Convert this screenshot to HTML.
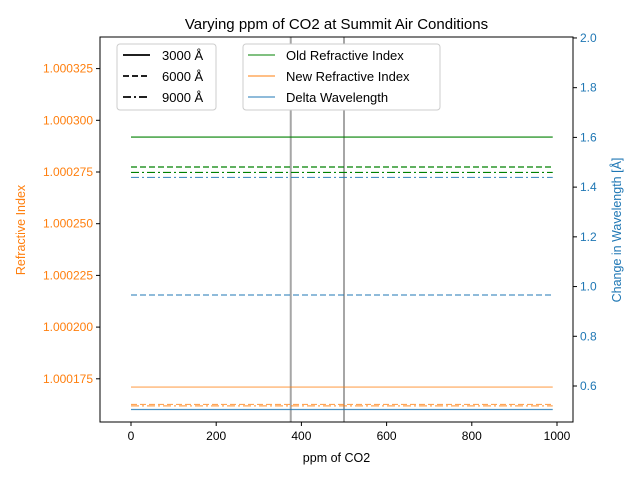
<!DOCTYPE html>
<html><head><meta charset="utf-8"><style>
body{margin:0;background:#fff}
svg{font-family:"Liberation Sans","DejaVu Sans",sans-serif}
</style></head><body>
<svg id="c" width="640" height="480" viewBox="0 0 640 480"></svg>
<script>
const wavelengths=["3000 Å","6000 Å","9000 Å"];
const dashes=["none","6,3","8,3,2,3"];
const ppmRange=[0,990];
const vlines=[375,500];
const oldIndex=[1.0002919,1.0002774,1.0002748];
const newIndex=[1.0001710,1.0001626,1.0001619];
const delta=[0.5055,0.966,1.439];
const leftTicks=[1.000175,1.000200,1.000225,1.000250,1.000275,1.000300,1.000325];
const rightTicks=[0.6,0.8,1.0,1.2,1.4,1.6,1.8,2.0];
const xTicks=[0,200,400,600,800,1000];

const NS="http://www.w3.org/2000/svg",svg=document.getElementById('c');
const L=100,R=573,T=37,B=422;
const x=v=>131+v*0.426;
const yl=v=>172-(v-1.000275)/0.000025*51.7;
const yr=v=>386-(v-0.6)/0.2*49.72;
function el(t,a,p){const e=document.createElementNS(NS,t);for(const k in a)e.setAttribute(k,a[k]);(p||svg).appendChild(e);return e;}
function tx(s,a){const e=el('text',a);e.textContent=s;return e;}

vlines.forEach(v=>{const e=el('line',{x1:x(v),x2:x(v),y1:T,y2:B,stroke:'#a6a6a6',"stroke-width":2});

});

function series(vals,scale,col,op,name){
 vals.forEach((v,i)=>{const e=el('line',{x1:x(ppmRange[0]),x2:x(ppmRange[1]),y1:scale(v),y2:scale(v),stroke:col,"stroke-width":1.2,"stroke-opacity":op,"stroke-dasharray":dashes[i]});
 
 });
}
series(oldIndex,yl,'#008000',1,'old-index-line');
series(newIndex,yl,'#ff7f0e',0.7,'new-index-line');
series(delta,yr,'#1f77b4',0.8,'delta-line');

const fr=el('rect',{x:L,y:T,width:R-L,height:B-T,fill:'none',stroke:'#000',"stroke-width":1});


xTicks.forEach(v=>{el('line',{x1:x(v),x2:x(v),y1:B,y2:B+4,stroke:'#000'});
 const t=tx(v,{x:x(v),y:B+18,"font-size":12,"text-anchor":"middle"});
 });
leftTicks.forEach(v=>{el('line',{x1:L-4,x2:L,y1:yl(v),y2:yl(v),stroke:'#000'});
 const t=tx(v.toFixed(6),{x:L-7,y:yl(v)+4,"font-size":12,"text-anchor":"end",fill:'#ff7f0e'});
 });
rightTicks.forEach(v=>{el('line',{x1:R,x2:R+4,y1:yr(v),y2:yr(v),stroke:'#000'});
 const t=tx(v.toFixed(1),{x:R+7,y:yr(v)+4,"font-size":12,fill:'#1f77b4'});
 });

let t=tx('Varying ppm of CO2 at Summit Air Conditions',{x:(L+R)/2,y:29,"font-size":15,"text-anchor":"middle"});

t=tx('ppm of CO2',{x:(L+R)/2,y:462,"font-size":12.5,"text-anchor":"middle"});

t=tx('Refractive Index',{x:0,y:0,"font-size":12.5,"text-anchor":"middle",fill:'#ff7f0e',transform:'translate(25,230) rotate(-90)'});

t=tx('Change in Wavelength [Å]',{x:0,y:0,"font-size":12.5,"text-anchor":"middle",fill:'#1f77b4',transform:'translate(621,230) rotate(-90)'});


let g=el('g',{});
el('rect',{x:117,y:44,width:99,height:66,rx:3,fill:'#fff',stroke:'#ccc'},g);
wavelengths.forEach((w,i)=>{const yy=55+i*21;
 el('line',{x1:123,x2:150,y1:yy,y2:yy,stroke:'#000',"stroke-width":1.7,"stroke-dasharray":dashes[i]},g);
 const e=tx(w,{x:162,y:yy+5,"font-size":13});g.appendChild(e);
 });
g=el('g',{});
el('rect',{x:243,y:44,width:197,height:66,rx:3,fill:'#fff',stroke:'#ccc'},g);
[['Old Refractive Index','#008000'],['New Refractive Index','#ff7f0e'],['Delta Wavelength','#1f77b4']].forEach((s,i)=>{const yy=55+i*21;
 el('line',{x1:248,x2:275,y1:yy,y2:yy,stroke:s[1],"stroke-width":1},g);
 const e=tx(s[0],{x:286,y:yy+5,"font-size":13});g.appendChild(e);
 });
</script>
</body></html>
